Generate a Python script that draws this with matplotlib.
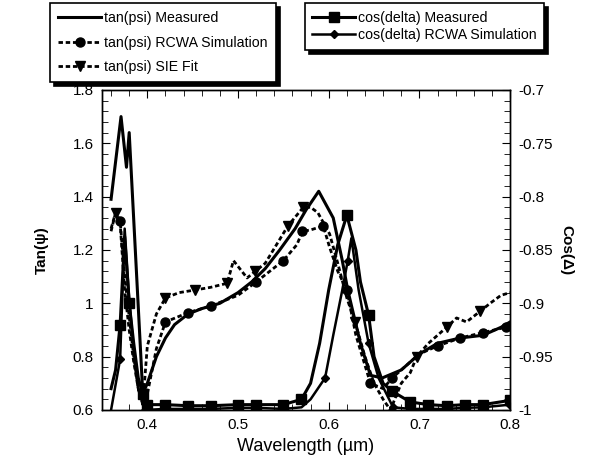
import numpy as np
import matplotlib
matplotlib.use("Agg")
import matplotlib.pyplot as plt
from matplotlib.ticker import MultipleLocator, FuncFormatter

plt.rcParams['font.family'] = ['Liberation Sans', 'DejaVu Sans']

# tan(psi) measured
wl_tan_meas = [0.36, 0.371, 0.377, 0.38, 0.395, 0.40, 0.41, 0.42, 0.43, 0.445, 0.46, 0.48,
               0.50, 0.515, 0.53, 0.546, 0.563, 0.575, 0.589, 0.605, 0.615, 0.621, 0.635,
               0.646, 0.659, 0.68, 0.70, 0.72, 0.745, 0.77, 0.79, 0.80]
tan_meas = [1.39, 1.70, 1.51, 1.64, 0.66, 0.70, 0.80, 0.87, 0.92, 0.96, 0.98, 1.00,
            1.04, 1.08, 1.13, 1.20, 1.28, 1.35, 1.42, 1.32, 1.16, 1.05, 0.85,
            0.73, 0.72, 0.75, 0.81, 0.85, 0.87, 0.88, 0.91, 0.93]

# tan(psi) RCWA simulation
wl_tan_rcwa = [0.36, 0.365, 0.37, 0.375, 0.38, 0.385, 0.39, 0.395, 0.40, 0.41, 0.42, 0.445,
               0.47, 0.50, 0.52, 0.55, 0.565, 0.571, 0.58, 0.594, 0.601, 0.61, 0.62, 0.63,
               0.646, 0.66, 0.67, 0.69, 0.70, 0.72, 0.745, 0.77, 0.795, 0.80]
tan_rcwa = [1.28, 1.34, 1.31, 1.10, 0.95, 0.80, 0.68, 0.62, 0.66, 0.83, 0.93, 0.965,
            0.99, 1.03, 1.08, 1.16, 1.22, 1.27, 1.275, 1.29, 1.21, 1.12, 1.05, 0.88,
            0.70, 0.68, 0.72, 0.78, 0.81, 0.84, 0.87, 0.89, 0.91, 0.92]
mk_tan_rcwa = [2, 10, 11, 12, 14, 15, 17, 19, 22, 24, 26, 29, 30, 31, 32]

# tan(psi) SIE fit
wl_tan_sie = [0.36, 0.365, 0.37, 0.375, 0.38, 0.385, 0.39, 0.395, 0.40, 0.41, 0.42, 0.435,
              0.453, 0.47, 0.488, 0.495, 0.51, 0.519, 0.53, 0.555, 0.572, 0.58, 0.588, 0.601,
              0.61, 0.62, 0.629, 0.64, 0.65, 0.66, 0.668, 0.68, 0.69, 0.697, 0.71, 0.73,
              0.741, 0.752, 0.767, 0.778, 0.79, 0.80]
tan_sie = [1.27, 1.34, 1.30, 1.05, 0.90, 0.78, 0.68, 0.62, 0.84, 0.96, 1.02, 1.04,
           1.05, 1.06, 1.075, 1.16, 1.095, 1.12, 1.15, 1.29, 1.36, 1.36, 1.34, 1.26,
           1.15, 1.02, 0.93, 0.80, 0.70, 0.64, 0.60, 0.70, 0.74, 0.80, 0.85, 0.91,
           0.945, 0.93, 0.97, 1.00, 1.03, 1.04]
mk_tan_sie = [1, 10, 12, 14, 17, 19, 20, 26, 33, 35, 38]

# cos(delta) measured
wl_cos_meas = [0.36, 0.365, 0.37, 0.375, 0.38, 0.385, 0.39, 0.395, 0.40, 0.42, 0.445, 0.47,
               0.50, 0.52, 0.55, 0.57, 0.58, 0.59, 0.60, 0.61, 0.62, 0.63, 0.635, 0.644,
               0.65, 0.66, 0.67, 0.69, 0.71, 0.73, 0.75, 0.77, 0.80]
cos_meas = [-0.98, -0.9625, -0.92, -0.8375, -0.90, -0.9375, -0.97, -0.985, -0.995, -0.995,
            -0.996, -0.996, -0.995, -0.995, -0.995, -0.99, -0.975, -0.9375, -0.8875, -0.845,
            -0.8175, -0.85, -0.88, -0.911, -0.95, -0.975, -0.9825, -0.9925, -0.995, -0.996,
            -0.995, -0.995, -0.991]
mk_cos_meas = [2, 4, 7, 8, 9, 10, 11, 12, 13, 14, 15, 20, 23, 26, 27, 28, 29, 30, 31, 32]

# cos(delta) RCWA simulation
wl_cos_rcwa = [0.36, 0.37, 0.375, 0.38, 0.385, 0.39, 0.397, 0.42, 0.445, 0.47, 0.50, 0.52,
               0.55, 0.57, 0.58, 0.596, 0.605, 0.615, 0.621, 0.625, 0.633, 0.644, 0.655,
               0.671, 0.69, 0.71, 0.73, 0.75, 0.77, 0.80]
cos_rcwa = [-1.0, -0.9525, -0.83, -0.895, -0.945, -0.98, -1.0, -0.999, -0.999, -0.999,
            -0.998, -0.998, -0.999, -0.9975, -0.99, -0.97, -0.93, -0.8875, -0.86, -0.839,
            -0.8875, -0.9375, -0.97, -0.9975, -0.999, -0.999, -0.999, -0.998, -0.9975, -0.995]
mk_cos_rcwa = [1, 6, 7, 8, 9, 10, 11, 12, 15, 18, 21, 23, 24, 25, 26, 27, 28, 29]

fig = plt.figure(figsize=(6.01, 4.70), dpi=100)
ax = fig.add_axes([0.1697, 0.1277, 0.679, 0.681])
ax2 = ax.twinx()

dash = (1.6, 1.0)
l1, = ax.plot(wl_tan_meas, tan_meas, color='black', lw=2.2)
l2, = ax.plot(wl_tan_rcwa, tan_rcwa, color='black', lw=2.0, dashes=dash,
              marker='o', ms=6.5, markevery=mk_tan_rcwa)
l3, = ax.plot(wl_tan_sie, tan_sie, color='black', lw=2.0, dashes=dash,
              marker='v', ms=6.5, markevery=mk_tan_sie)
l4, = ax2.plot(wl_cos_meas, cos_meas, color='black', lw=2.2,
               marker='s', ms=6.5, markevery=mk_cos_meas)
l5, = ax2.plot(wl_cos_rcwa, cos_rcwa, color='black', lw=1.8,
               marker='D', ms=4.5, markevery=mk_cos_rcwa)

fmt = FuncFormatter(lambda v, p: ('%g' % round(v, 3)))
ax.set_xlim(0.35, 0.8)
ax.set_ylim(0.6, 1.8)
ax2.set_ylim(-1.0, -0.7)
ax.xaxis.set_major_locator(MultipleLocator(0.1))
ax.xaxis.set_minor_locator(MultipleLocator(0.02))
ax.yaxis.set_major_locator(MultipleLocator(0.2))
ax.yaxis.set_minor_locator(MultipleLocator(0.04))
ax2.yaxis.set_major_locator(MultipleLocator(0.05))
ax2.yaxis.set_minor_locator(MultipleLocator(0.01))
for a in (ax, ax2):
    a.xaxis.set_major_formatter(fmt)
    a.yaxis.set_major_formatter(fmt)
    for s in a.spines.values():
        s.set_linewidth(1.0)
ax.tick_params(which='both', direction='in', top=True, labelsize=11, pad=6)
ax.tick_params(which='major', length=6)
ax.tick_params(which='minor', length=4)
ax2.tick_params(which='both', direction='in', labelsize=11, pad=6)
ax2.tick_params(which='major', length=6)
ax2.tick_params(which='minor', length=4)

ax.set_xlabel('Wavelength (\u00b5m)', fontsize=13)
ax.set_ylabel('Tan(\u03c8)', fontsize=11, fontweight='bold', labelpad=17)
ax2.set_ylabel('Cos(\u0394)', fontsize=11, fontweight='bold', rotation=270, labelpad=15)

shadow = {'color': 'black', 'alpha': 1.0, 'ox': 3, 'oy': -3}
leg1 = fig.legend([l1, l2, l3],
                  ['tan(psi) Measured', 'tan(psi) RCWA Simulation', 'tan(psi) SIE Fit'],
                  loc='upper left', bbox_to_anchor=(0.083, 0.994), fontsize=10.2,
                  frameon=True, fancybox=False, shadow=shadow, edgecolor='black',
                  handlelength=3.0, borderpad=0.6, labelspacing=0.72, handletextpad=0.2,
                  borderaxespad=0)
leg1.get_frame().set_linewidth(1.2)
leg2 = fig.legend([l4, l5],
                  ['cos(delta) Measured', 'cos(delta) RCWA Simulation'],
                  loc='upper left', bbox_to_anchor=(0.507, 0.994), fontsize=10.2,
                  frameon=True, fancybox=False, shadow=shadow, edgecolor='black',
                  handlelength=3.0, borderpad=0.55, labelspacing=0.22, handletextpad=0.2,
                  borderaxespad=0)
leg2.get_frame().set_linewidth(1.2)

fig.savefig('out.png', dpi=100)
